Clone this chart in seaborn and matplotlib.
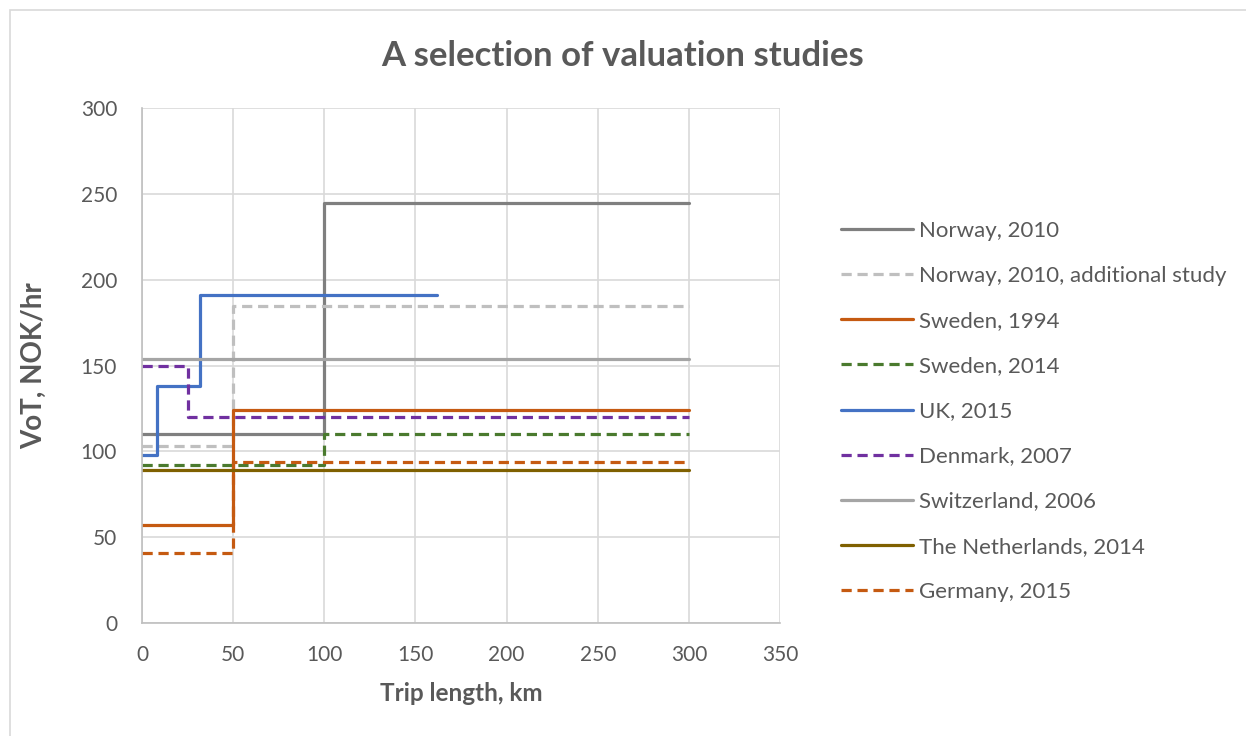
import matplotlib
matplotlib.use("Agg")
import matplotlib.pyplot as plt
import seaborn as sns
from matplotlib.patches import Rectangle

# Step data: x = start of each band (last point repeats the final value)
norway_x = [0, 100, 300]
norway_y = [110, 245, 245]
norway_add_x = [0, 50, 300]
norway_add_y = [103, 185, 185]
sweden94_x = [0, 50, 300]
sweden94_y = [57, 124, 124]
sweden14_x = [0, 100, 300]
sweden14_y = [92, 110, 110]
uk_x = [0, 8, 32, 162]
uk_y = [98, 138, 191, 191]
denmark_x = [0, 25, 300]
denmark_y = [150, 120, 120]
swiss_x = [0, 300]
swiss_y = [154, 154]
nl_x = [0, 300]
nl_y = [89, 89]
germany_x = [0, 50, 300]
germany_y = [41, 94, 94]

labels = ["Norway, 2010", "Norway, 2010, additional study", "Sweden, 1994",
          "Sweden, 2014", "UK, 2015", "Denmark, 2007", "Switzerland, 2006",
          "The Netherlands, 2014", "Germany, 2015"]

series = [
    (norway_x, norway_y, "#7F7F7F", False),
    (norway_add_x, norway_add_y, "#BFBFBF", True),
    (sweden94_x, sweden94_y, "#C55A11", False),
    (sweden14_x, sweden14_y, "#4A7A2E", True),
    (uk_x, uk_y, "#4472C4", False),
    (denmark_x, denmark_y, "#7030A0", True),
    (swiss_x, swiss_y, "#A5A5A5", False),
    (nl_x, nl_y, "#7F6000", False),
    (germany_x, germany_y, "#C55A11", True),
]

sns.set_style("white")
plt.rcParams['font.family'] = ['Lato', 'DejaVu Sans']

fig = plt.figure(figsize=(12.46, 7.36), dpi=100)
ax = fig.add_axes([0.114, 0.1535, 0.512, 0.6995])

# chart area border
fig.patches.append(Rectangle((0.008, -0.01), 1.0, 0.997, transform=fig.transFigure,
                             fill=False, edgecolor="#D9D9D9", linewidth=1.2))

for (x, y, color, dashed), label in zip(series, labels):
    sns.lineplot(x=x, y=y, ax=ax, color=color, linewidth=2.3, label=label,
                 drawstyle="steps-post", estimator=None, sort=False)
    if dashed:
        ax.lines[-1].set_dashes((3.2, 1.8))

ax.set_xlim(0, 350)
ax.set_ylim(0, 300)
ax.set_xticks(range(0, 351, 50))
ax.set_yticks(range(0, 301, 50))
ax.grid(True, color="#D9D9D9", linewidth=1.2)
ax.set_axisbelow(True)
for s in ["top", "right"]:
    ax.spines[s].set_visible(False)
for s in ["left", "bottom"]:
    ax.spines[s].set_color("#BFBFBF")
    ax.spines[s].set_linewidth(1.2)
ax.tick_params(axis="both", labelsize=15, colors="#595959", length=0)
ax.tick_params(axis="x", pad=16)
ax.tick_params(axis="y", pad=18)

ax.set_xlabel("Trip length, km", fontsize=17.5, fontweight="bold", color="#595959", labelpad=12)
ax.set_ylabel("VoT, NOK/hr", fontsize=20, fontweight="bold", color="#595959", labelpad=24)
fig.suptitle("A selection of valuation studies", x=0.5, y=0.945, fontsize=25,
             fontweight="bold", color="#595959")

leg = ax.legend(loc="upper left", bbox_to_anchor=(0.668, 0.712), bbox_transform=fig.transFigure,
                frameon=False, fontsize=16, labelspacing=1.13, handlelength=3.25,
                handletextpad=0.27, borderaxespad=0)
for t in leg.get_texts():
    t.set_color("#595959")

fig.savefig("out.png", dpi=100)
